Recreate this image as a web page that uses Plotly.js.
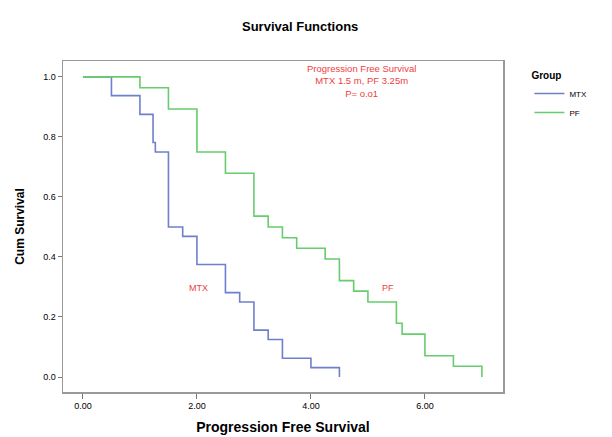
<!DOCTYPE html>
<html><head><meta charset="utf-8">
<script src="https://cdn.plot.ly/plotly-3.0.1.min.js"></script>
<style>html,body{margin:0;padding:0;background:#fff}#chart{width:612px;height:437px}</style>
</head><body><div id="chart"></div>
<script>
const groups = ["MTX", "PF"];
const mtxTime = [0, 0.5, 1.0, 1.23, 1.27, 1.5, 1.75, 2.0, 2.5, 2.75, 3.0, 3.25, 3.5, 4.0, 4.5];
const mtxSurv = [1.0, 0.9375, 0.875, 0.78125, 0.75, 0.5, 0.46875, 0.375, 0.28125, 0.25, 0.15625, 0.125, 0.0625, 0.03125, 0.0];
const pfTime = [0, 1.0, 1.5, 2.0, 2.5, 3.0, 3.25, 3.5, 3.75, 4.25, 4.5, 4.75, 5.0, 5.5, 5.6, 6.0, 6.5, 7.0];
const pfSurv = [1.0, 0.964, 0.893, 0.75, 0.679, 0.536, 0.5, 0.464, 0.429, 0.393, 0.321, 0.286, 0.25, 0.179, 0.143, 0.071, 0.036, 0.0];
const xTicks = [0, 2, 4, 6];
const xTickText = ["0.00", "2.00", "4.00", "6.00"];
const yTicks = [0, 0.2, 0.4, 0.6, 0.8, 1.0];
const yTickText = ["0.0", "0.2", "0.4", "0.6", "0.8", "1.0"];
const colors = ["#6f7fcc", "#66cc6e"];

const traces = [
  {x: mtxTime, y: mtxSurv, name: groups[0], type: "scatter", mode: "lines", line: {shape: "hv", color: colors[0], width: 1.6}},
  {x: pfTime, y: pfSurv, name: groups[1], type: "scatter", mode: "lines", line: {shape: "hv", color: colors[1], width: 1.6}}
];
const red = "#f04040";
const layout = {
  width: 612, height: 437,
  margin: {l: 63, r: 109, t: 61, b: 45},
  paper_bgcolor: "#fff", plot_bgcolor: "#fff",
  font: {family: "Liberation Sans, Arial, sans-serif", color: "#000"},
  title: {text: "<b>Survival Functions</b>", x: 0.539, xref: "paper", y: 0.95, yref: "container", xanchor: "center", font: {size: 13, family: "Liberation Sans, Arial, sans-serif"}},
  xaxis: {
    range: [-0.35, 7.37], tickvals: xTicks, ticktext: xTickText, ticks: "outside", ticklen: 5, tickcolor: "#777",
    showgrid: false, zeroline: false, showline: true, mirror: true, linecolor: "#999", linewidth: 1.5,
    tickfont: {size: 9, family: "Liberation Sans, Arial, sans-serif"},
    title: {text: "<b>Progression Free Survival</b>", font: {size: 14}, standoff: 12}
  },
  yaxis: {
    range: [-0.05, 1.053], tickvals: yTicks, ticktext: yTickText, ticks: "outside", ticklen: 4, tickcolor: "#777",
    showgrid: false, zeroline: false, showline: true, mirror: true, linecolor: "#999", linewidth: 1.5,
    tickfont: {size: 9, family: "Liberation Sans, Arial, sans-serif"},
    title: {text: "<b>Cum Survival</b>", font: {size: 12}, standoff: 16}
  },
  legend: {
    x: 1.06, xanchor: "left", y: 0.985, yanchor: "top",
    title: {text: "<b>Group</b>", font: {size: 10}, side: "top"},
    font: {size: 8}, itemwidth: 30, tracegroupgap: 0, bgcolor: "rgba(0,0,0,0)"
  },
  annotations: [
    {xref: "x", yref: "y", x: 4.89, y: 0.985, text: "Progression Free Survival<br>MTX 1.5 m, PF 3.25m<br>P= o.o1", showarrow: false, font: {size: 9.5, color: red}, align: "center"},
    {xref: "x", yref: "y", x: 2.02, y: 0.297, text: "MTX", showarrow: false, font: {size: 9, color: red}},
    {xref: "x", yref: "y", x: 5.35, y: 0.297, text: "PF", showarrow: false, font: {size: 9, color: red}}
  ],
  showlegend: true
};
Plotly.newPlot("chart", traces, layout, {displayModeBar: false, staticPlot: true});
</script></body></html>
